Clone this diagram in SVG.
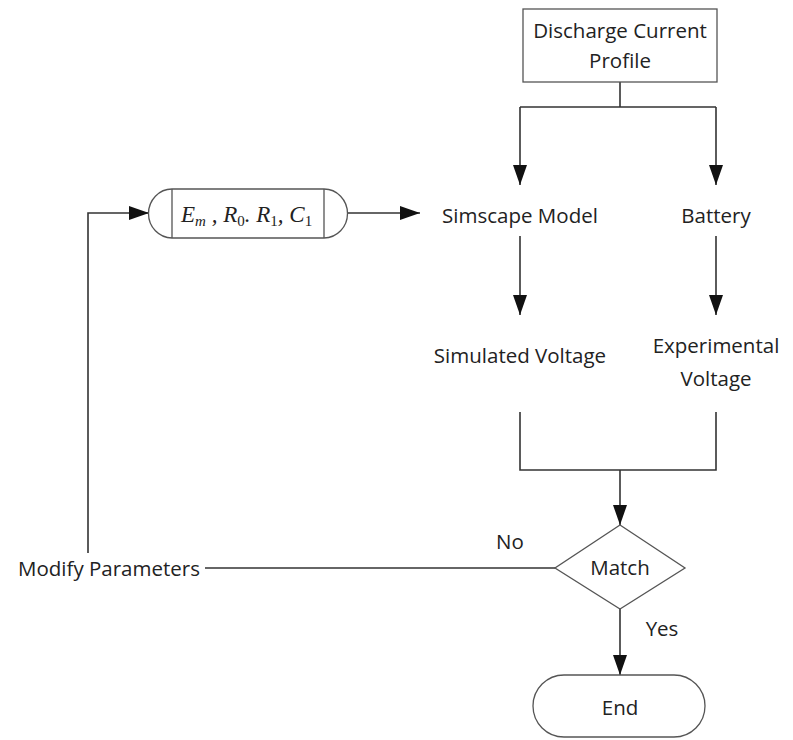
<svg xmlns="http://www.w3.org/2000/svg" width="793" height="740" viewBox="0 0 793 740">
<style>
.t{font-family:"Open Sans","Liberation Sans",sans-serif;font-size:20.5px;fill:#222;text-anchor:middle;dominant-baseline:central}
.s{fill:#fff;stroke:#555;stroke-width:1.3}
.c{fill:none;stroke:#333;stroke-width:1.6}
.m{font-family:"Liberation Serif",serif;font-style:italic;font-size:23px;fill:#222}
.d{font-size:15px;font-style:normal}
</style>
<defs>
<marker id="av" viewBox="0 0 20 14" refX="20" refY="7" markerWidth="20" markerHeight="14" markerUnits="userSpaceOnUse" orient="auto">
<path d="M0,0 L20,7 L0,14 Z" fill="#111"/>
</marker>
</defs>
<rect width="793" height="740" fill="#fff"/>
<g id="connectors">
<path class="c" d="M620,82 V107 M520,107 H716"/>
<path class="c" d="M520,107 V185" marker-end="url(#av)"/>
<path class="c" d="M716,107 V185" marker-end="url(#av)"/>
<path class="c" d="M520,236 V315" marker-end="url(#av)"/>
<path class="c" d="M716,236 V315" marker-end="url(#av)"/>
<path class="c" d="M520,412 V470 H716 V412"/>
<path class="c" d="M620,470 V525" marker-end="url(#av)"/>
<path class="c" d="M555,568 H205"/>
<path class="c" d="M88,553 V213 H149" marker-end="url(#av)"/>
<path class="c" d="M347,213 H420" marker-end="url(#av)"/>
<path class="c" d="M620,609 V675" marker-end="url(#av)"/>
</g>
<g id="discharge">
<rect class="s" x="523" y="9" width="194" height="73"/>
<text class="t" x="620" y="30">Discharge Current</text>
<text class="t" x="620" y="60">Profile</text>
</g>
<g id="simscape"><text class="t" x="520" y="215">Simscape Model</text></g>
<g id="battery"><text class="t" x="716" y="215">Battery</text></g>
<g id="simulated"><text class="t" x="520" y="355">Simulated Voltage</text></g>
<g id="experimental">
<text class="t" x="716" y="345">Experimental</text>
<text class="t" x="716" y="378">Voltage</text>
</g>
<g id="params">
<path class="s" d="M172,189 H324 A23.5,24.5 0 0 1 324,238 H172 A23.5,24.5 0 0 1 172,189 Z"/>
<path class="s" d="M172,189 V238 M324,189 V238"/>
<text class="m" x="181" y="222">E<tspan font-size="15" dy="4">m</tspan><tspan dy="-4"> , R</tspan><tspan class="d" dy="4">0</tspan><tspan dy="-4">. R</tspan><tspan class="d" dy="4">1</tspan><tspan dy="-4">, C</tspan><tspan class="d" dy="4">1</tspan></text>
</g>
<g id="match">
<path class="s" d="M620,525 L685,568 L620,609 L555,568 Z"/>
<text class="t" x="620" y="567">Match</text>
</g>
<g id="modify"><text class="t" x="109" y="568">Modify Parameters</text></g>
<g id="labels">
<text class="t" x="510" y="541">No</text>
<text class="t" x="662" y="628">Yes</text>
</g>
<g id="end">
<rect class="s" x="533" y="675" width="172" height="62" rx="31" ry="31"/>
<text class="t" x="620" y="707">End</text>
</g>
</svg>
